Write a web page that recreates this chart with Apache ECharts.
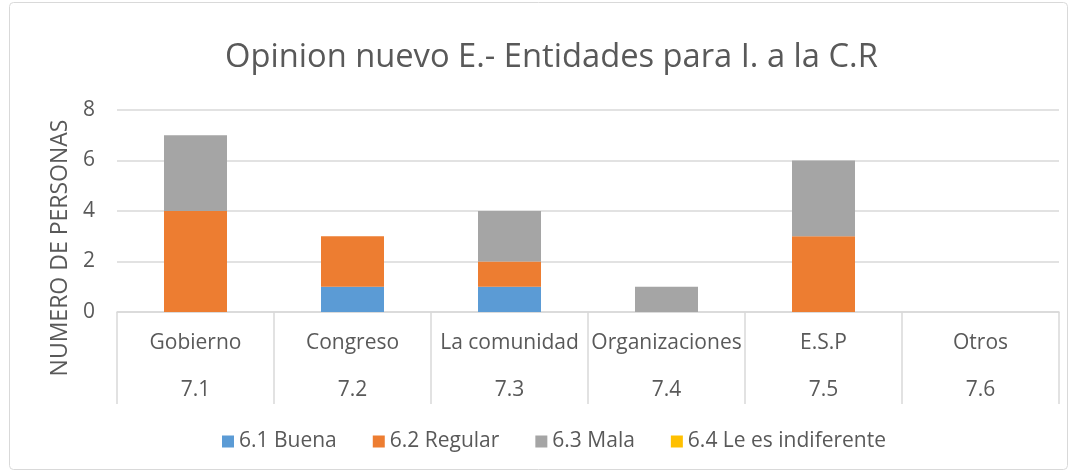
<!DOCTYPE html>
<html lang="es">
<head>
<meta charset="UTF-8">
<title>Opinion nuevo E.</title>
<script src="https://cdn.jsdelivr.net/npm/echarts@6/dist/echarts.min.js"></script>
<style>
  body { margin: 0; background: #fff; }
  #main { width: 1076px; height: 475px; }
</style>
</head>
<body>
<div id="main"></div>
<script>
var categories = ['Gobierno', 'Congreso', 'La comunidad', 'Organizaciones', 'E.S.P', 'Otros'];
var codes = ['7.1', '7.2', '7.3', '7.4', '7.5', '7.6'];
var buena = [0, 1, 1, 0, 0, 0];
var regular = [4, 2, 1, 0, 3, 0];
var mala = [3, 0, 2, 1, 3, 0];
var indiferente = [0, 0, 0, 0, 0, 0];
var yTicks = [0, 2, 4, 6, 8];

var font = 'Open Sans';
var textColor = '#595959';

var chart = echarts.init(document.getElementById('main'));

function bar(name, data, color) {
    return {
        name: name,
        type: 'bar',
        stack: 'total',
        data: data,
        barWidth: 63,
        itemStyle: { color: color },
        emphasis: { disabled: true }
    };
}

chart.setOption({
    animation: false,
    textStyle: { fontFamily: font },
    graphic: [{
        type: 'rect',
        shape: { x: 9.5, y: 2.5, width: 1058, height: 467, r: 4 },
        style: { fill: 'none', stroke: '#d9d9d9', lineWidth: 1 },
        silent: true
    }, {
        // y axis title, centred lower than the grid like in the original
        type: 'text',
        x: 60,
        y: 248,
        rotation: Math.PI / 2,
        style: {
            text: 'NUMERO DE PERSONAS',
            fontFamily: font,
            fontSize: 23,
            fill: textColor,
            align: 'center',
            verticalAlign: 'middle'
        },
        silent: true
    }],
    title: {
        text: 'Opinion nuevo E.- Entidades para I. a la C.R',
        left: 220,
        top: 36,
        textStyle: { fontFamily: font, fontSize: 32.7, fontWeight: 'normal', color: textColor }
    },
    legend: {
        bottom: 18,
        left: 217,
        itemWidth: 12,
        itemHeight: 12,
        itemGap: 36,
        icon: 'rect',
        textStyle: { fontFamily: font, fontSize: 21, color: textColor },
        data: ['6.1 Buena', '6.2 Regular', '6.3 Mala', '6.4 Le es indiferente']
    },
    grid: { left: 117, right: 17, top: 110, bottom: 163 },
    xAxis: {
        type: 'category',
        data: categories,
        axisLine: { lineStyle: { color: '#d9d9d9', width: 1.5 } },
        axisTick: { show: true, length: 92, interval: 0, lineStyle: { color: '#d9d9d9', width: 1.5 } },
        axisLabel: {
            interval: 0,
            margin: 8,
            formatter: function (v, i) {
                return '{a|' + v + '}\n{b|' + codes[i] + '}';
            },
            rich: {
                a: { fontFamily: font, fontSize: 21, color: textColor, lineHeight: 47, height: 47 },
                b: { fontFamily: font, fontSize: 21, color: textColor, lineHeight: 47, height: 47 }
            }
        }
    },
    yAxis: {
        type: 'value',
        min: yTicks[0],
        max: yTicks[yTicks.length - 1],
        interval: 2,
        axisLabel: { fontFamily: font, fontSize: 21, color: textColor, margin: 22 },
        splitLine: { lineStyle: { color: '#d9d9d9', width: 1.5 } },
        axisLine: { show: false },
        axisTick: { show: false }
    },
    series: [
        bar('6.1 Buena', buena, '#5b9bd5'),
        bar('6.2 Regular', regular, '#ed7d31'),
        bar('6.3 Mala', mala, '#a5a5a5'),
        bar('6.4 Le es indiferente', indiferente, '#ffc000')
    ]
});
</script>
</body>
</html>
